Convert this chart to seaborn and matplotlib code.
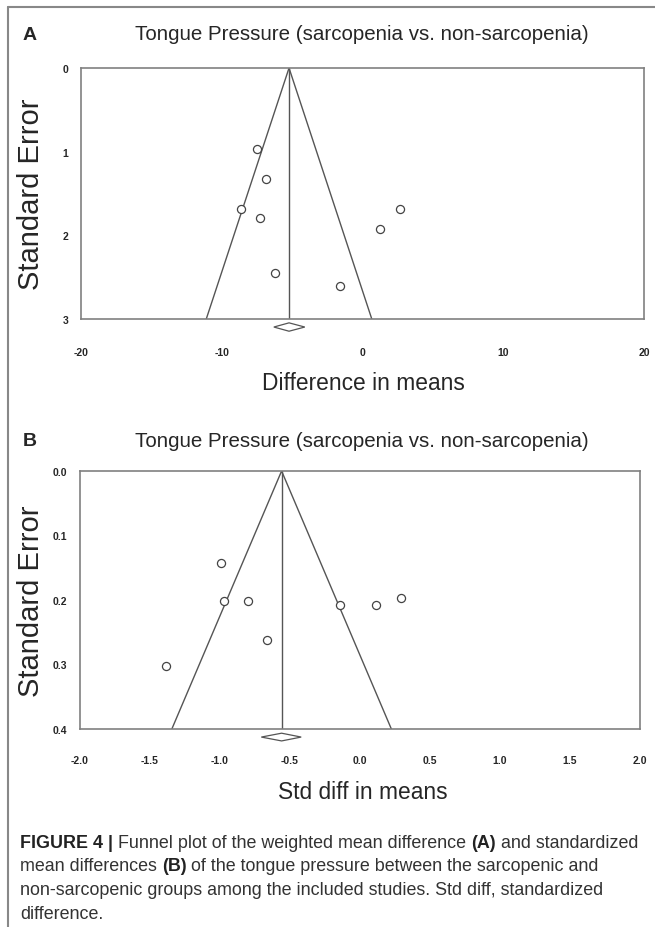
import numpy as np
import pandas as pd
import matplotlib
matplotlib.use("Agg")
import matplotlib.pyplot as plt
from matplotlib.patches import Polygon
import seaborn as sns

# Panel A - difference in means
a_diff = [-7.52, -6.84, -8.66, -7.26, -6.24, -1.62, 1.27, 2.69]
a_se = [0.97, 1.33, 1.68, 1.79, 2.45, 2.60, 1.93, 1.68]
a_pooled = -5.22
a_ci = [-6.3, -4.1]
a_xticks = [-20, -10, 0, 10, 20]
a_yticks = [0, 1, 2, 3]

# Panel B - std diff in means
b_diff = [-0.996, -0.975, -0.80, -0.667, -0.146, 0.117, 0.29, -1.387]
b_se = [0.142, 0.201, 0.202, 0.262, 0.207, 0.207, 0.197, 0.303]
b_pooled = -0.56
b_ci = [-0.705, -0.42]
b_xticks = [-2.0, -1.5, -1.0, -0.5, 0.0, 0.5, 1.0, 1.5, 2.0]
b_yticks = [0.0, 0.1, 0.2, 0.3, 0.4]

title = "Tongue Pressure (sarcopenia vs. non-sarcopenia)"

sns.set_style("white")
plt.rcParams['font.family'] = ['Liberation Sans', 'DejaVu Sans']

W, H = 655, 928
fig = plt.figure(figsize=(W / 100, H / 100), dpi=100)


def box(l, t, r, b):
    return [l / W, 1 - b / H, (r - l) / W, (b - t) / H]


def funnel(ax, diff, se, pooled, ci, xticks, yticks, xfmt, yfmt, dy, dh, xpad):
    semax = yticks[-1]
    edge = pd.DataFrame({"x": [pooled - 1.96 * semax, pooled, pooled + 1.96 * semax],
                         "y": [semax, 0, semax]})
    sns.lineplot(data=edge, x="x", y="y", sort=False, estimator=None,
                 color="#555555", lw=1.0, ax=ax)
    mid = pd.DataFrame({"x": [pooled, pooled], "y": [0, semax]})
    sns.lineplot(data=mid, x="x", y="y", sort=False, estimator=None,
                 color="#555555", lw=1.0, ax=ax)
    pts = pd.DataFrame({"diff": diff, "se": se})
    sns.scatterplot(data=pts, x="diff", y="se", marker="o", s=34, facecolor="white",
                    edgecolor="#444444", linewidth=0.9, ax=ax, zorder=3)
    # pooled estimate diamond under the axis
    y0 = semax + dy
    dia = Polygon([[ci[0], y0], [pooled, y0 - dh], [ci[1], y0], [pooled, y0 + dh]],
                  closed=True, facecolor="white", edgecolor="#555555", lw=0.9, clip_on=False)
    ax.add_patch(dia)
    ax.set_xlim(xticks[0], xticks[-1])
    ax.set_ylim(semax, 0)
    ax.set_xticks(xticks)
    ax.set_yticks(yticks)
    ax.set_xticklabels([xfmt.format(v) for v in xticks])
    ax.set_yticklabels([yfmt.format(v) for v in yticks])
    ax.set_xlabel("")
    ax.set_ylabel("")
    for s in ax.spines.values():
        s.set_color("#808080")
        s.set_linewidth(1.2)
    ax.tick_params(axis="x", direction="in", length=4, width=0.8, color="#808080",
                   pad=xpad, labelsize=7.5)
    ax.tick_params(axis="y", direction="out", length=3, width=0.8, color="#808080",
                   pad=6, labelsize=7.5)
    for lab in ax.get_xticklabels() + ax.get_yticklabels():
        lab.set_fontweight("bold")


ax_a = fig.add_axes(box(81, 69, 644, 320))
funnel(ax_a, a_diff, a_se, a_pooled, a_ci, a_xticks, a_yticks, "{:d}", "{:d}", 0.096, 0.05, 20)

ax_b = fig.add_axes(box(80, 472, 640, 730))
funnel(ax_b, b_diff, b_se, b_pooled, b_ci, b_xticks, b_yticks, "{:.1f}", "{:.1f}", 0.0125, 0.006, 18.5)

# titles, panel letters, axis labels
for letter, ty, xl, xly, ax in [("A", 35, "Difference in means", 383, ax_a),
                                 ("B", 442, "Std diff in means", 793, ax_b)]:
    fig.text(30 / W, 1 - ty / H, letter, fontsize=14, fontweight="bold", ha="center", va="center")
    fig.text(362 / W, 1 - ty / H, title, fontsize=14.8, ha="center", va="center")
    fig.text(363 / W, 1 - xly / H, xl, fontsize=16.4, ha="center", va="center")
    pos = ax.get_position()
    fig.text(31 / W, pos.y0 + pos.height / 2, "Standard Error", fontsize=21, rotation=90,
             ha="center", va="center")

# outer frame
fig.add_artist(plt.Line2D([8 / W, 8 / W], [0, 1 - 8 / H], color="#888888", lw=1.5))
fig.add_artist(plt.Line2D([8 / W, 1], [1 - 8 / H, 1 - 8 / H], color="#888888", lw=1.5))

# caption with bold parts
caption = [
    [("FIGURE 4 |", True), (" Funnel plot of the weighted mean difference ", False), ("(A)", True),
     (" and standardized", False)],
    [("mean differences ", False), ("(B)", True),
     (" of the tongue pressure between the sarcopenic and", False)],
    [("non-sarcopenic groups among the included studies. Std diff, standardized", False)],
    [("difference.", False)],
]
fig.canvas.draw()
renderer = fig.canvas.get_renderer()
for i, line in enumerate(caption):
    x = 20
    y = 843 + i * 24
    for txt, bold in line:
        t = fig.text(x / W, 1 - y / H, txt, fontsize=12.9, fontweight="bold" if bold else "normal",
                     color="#222222" if bold else "#333333", ha="left", va="center")
        x += t.get_window_extent(renderer).width

fig.savefig("out.png", dpi=100)
